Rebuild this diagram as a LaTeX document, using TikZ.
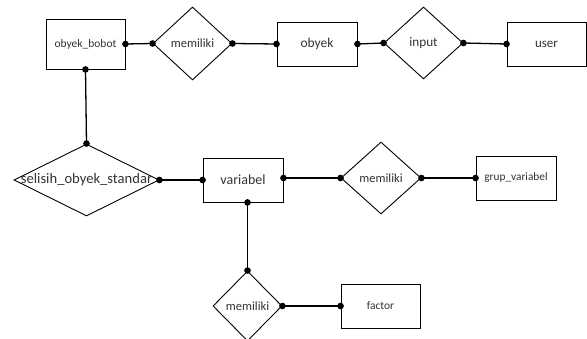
\documentclass[tikz,border=0pt]{standalone}
\usepackage{fontspec}
\setmainfont{Carlito}
\usetikzlibrary{shapes.geometric,arrows.meta}
\definecolor{txt}{HTML}{333333}
\tikzset{
  ent/.style={draw, line width=0.9pt, rectangle, inner sep=0pt, text=txt},
  rel/.style={draw, line width=0.9pt, diamond, inner sep=0pt, text=txt},
  conn/.style={line width=1.3pt, {Circle[length=6.5pt]}-{Circle[length=6.5pt]}, shorten <=-3.25pt, shorten >=-3.25pt},
  fs/.style={font=\fontsize{#1}{#1}\selectfont}
}
\begin{document}
\begin{tikzpicture}[x=1pt,y=-1pt]
\useasboundingbox (0,0) rectangle (587,339);
% entities
\node[ent, minimum width=79pt, minimum height=50pt, fs=11.5] (ob) at (85.5,44) {obyek\_bobot};
\node[ent, minimum width=80pt, minimum height=44pt, fs=13.5] (obyek) at (317,44) {obyek};
\node[ent, minimum width=79pt, minimum height=44pt, fs=13] (user) at (546.5,44) {user};
\node[ent, minimum width=80pt, minimum height=44pt, fs=14] (var) at (243,180) {variabel};
\node[ent, minimum width=80pt, minimum height=44pt, fs=11.3] (grup) at (516,178) {grup\_variabel};
\node[ent, minimum width=79pt, minimum height=44pt, fs=11.5] (factor) at (380.5,306) {factor};
% relationships
\node[rel, minimum width=79pt, minimum height=73pt, label={[fs=12.5, text=txt]center:memiliki}] (m1) at (192.5,43.5) {};
\node[rel, minimum width=79pt, minimum height=72pt, label={[fs=13.2, text=txt]center:input}] (inp) at (423.5,43) {};
\node[rel, minimum width=145pt, minimum height=72pt, label={[fs=14.6, text=txt]center:selisih\_obyek\_standar}] (sel) at (86.5,180) {};
\node[rel, minimum width=80pt, minimum height=72pt, label={[fs=12.5, text=txt]center:memiliki}] (m2) at (381,178) {};
\node[rel, minimum width=69pt, minimum height=70pt, label={[fs=12.5, text=txt]center:memiliki}] (m3) at (247.5,306) {};
% connectors
\draw[conn] (ob.east) -- (m1.west);
\draw[conn] (m1.east) -- (obyek.west);
\draw[conn] (obyek.east) -- (inp.west);
\draw[conn] (inp.east) -- (user.west);
\draw[conn] (ob.south) -- (sel.north);
\draw[conn] (sel.east) -- (var.west);
\draw[conn] (var.east |- m2.west) -- (m2.west);
\draw[conn] (m2.east) -- (grup.west);
\draw[conn] (m3.north |- var.south) -- (m3.north);
\draw[conn] (m3.east) -- (factor.west);
\end{tikzpicture}
\end{document}
